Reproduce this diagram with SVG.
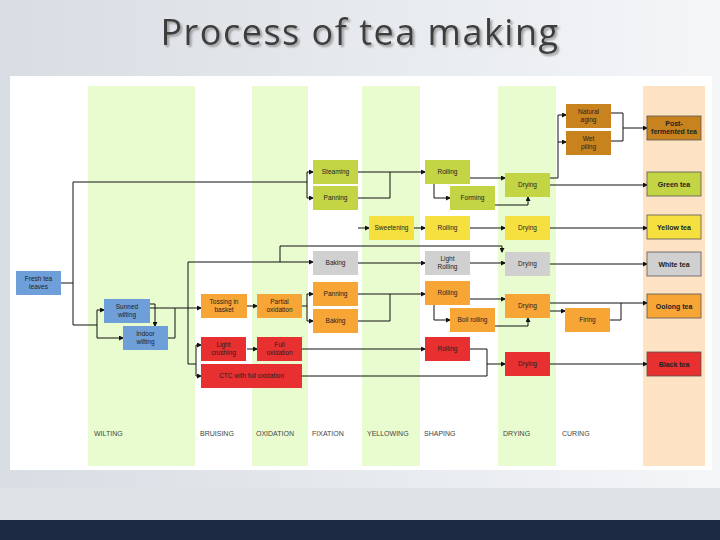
<svg xmlns="http://www.w3.org/2000/svg" width="720" height="540" viewBox="0 0 720 540">
<defs>
<linearGradient id="lg" x1="0" x2="1"><stop offset="0" stop-color="#d8dde3"/><stop offset="1" stop-color="#f4f6f8"/></linearGradient>
<filter id="sh"><feDropShadow dx="2" dy="2" stdDeviation="0.8" flood-color="#999"/></filter>
<marker id="a" markerWidth="5" markerHeight="5" refX="4" refY="2.5" orient="auto"><path d="M0,0L5,2.5L0,5z" fill="#111"/></marker>
<style>
.n rect{stroke:none}
.n text{font-family:"Liberation Sans",Arial,sans-serif;font-size:6.5px;text-anchor:middle;fill:#222}
.p text{font-weight:bold;font-size:7px}
.p rect{stroke:#555;stroke-width:.8}
.b{fill:#6f9fd8}.g{fill:#c3d545}.y{fill:#f5e040}.w{fill:#d0d0d0}.o{fill:#f7a535}.r{fill:#e83030}.br{fill:#c8821e}
.c path{fill:none;stroke:#111;stroke-width:1;marker-end:url(#a)}
.c path.nm{marker-end:none}
.lab{font-family:"Liberation Sans",Arial,sans-serif;font-size:7px;fill:#444}
</style>
</defs>
<rect width="720" height="540" fill="url(#lg)"/>
<rect x="0" y="488" width="720" height="32" fill="#dfe3e8"/>
<rect x="0" y="520" width="720" height="20" fill="#1c2a44"/>
<text x="360" y="45" text-anchor="middle" font-family="Open Sans,Liberation Sans,sans-serif" font-size="36" letter-spacing="1.5" fill="#3d3d3d" filter="url(#sh)">Process of tea making</text>
<rect x="10" y="76" width="702" height="394" fill="#fff"/>
<g fill="#e8fcd0">
<rect x="88" y="86" width="107" height="380"/><rect x="252" y="86" width="56" height="380"/><rect x="362" y="86" width="58" height="380"/><rect x="498" y="86" width="58" height="380"/>
</g>
<rect x="643" y="86" width="62" height="380" fill="#fde3c4"/>
<g class="lab">
<text x="94" y="436">WILTING</text><text x="200" y="436">BRUISING</text><text x="256" y="436">OXIDATION</text><text x="312" y="436">FIXATION</text><text x="367" y="436">YELLOWING</text><text x="424" y="436">SHAPING</text><text x="503" y="436">DRYING</text><text x="562" y="436">CURING</text>
</g>
<g class="c">
<path class="nm" d="M61,283H73"/>
<path class="nm" d="M73,182V325"/>
<path d="M73,182H307V172H313"/><path d="M307,182V198H313"/>
<path class="nm" d="M73,325H97"/><path d="M97,325V310H104"/><path d="M97,325V338H123"/>
<path d="M150,304H155V326"/>
<path class="nm" d="M168,338H175V308"/>
<path d="M150,308H201"/>
<path d="M247,306H257"/>
<path class="nm" d="M302,306H307"/><path d="M307,294H313"/><path d="M307,321H313"/><path class="nm" d="M307,294V321"/>
<path class="nm" d="M188,262V364"/><path d="M188,262H313"/><path class="nm" d="M280,262V246H502"/><path d="M502,246V252"/>
<path d="M196,345H201"/><path d="M196,376H201"/><path class="nm" d="M196,345V376"/><path class="nm" d="M188,364H196"/>
<path d="M247,349H257"/>
<path d="M358,172H425"/><path class="nm" d="M358,198H390V172"/>
<path d="M470,178H505"/><path d="M434,184V198H450"/><path d="M495,205H528V197"/>
<path d="M550,178H558V115H566"/><path d="M558,142H566"/>
<path class="nm" d="M611,113H623V141H611"/><path d="M623,128H647"/>
<path d="M550,185H647"/>
<path d="M358,228H369"/><path d="M414,228H425"/><path d="M470,228H505"/><path d="M550,228H647"/>
<path d="M358,263H425"/><path d="M470,263H505"/><path d="M550,264H647"/>
<path d="M358,294H425"/><path class="nm" d="M358,321H390V294"/>
<path d="M470,299H505"/><path d="M434,305V320H450"/><path d="M495,326H528V318"/>
<path d="M550,303H647"/><path d="M550,311H565"/><path class="nm" d="M610,320H621V303"/>
<path d="M302,349H425"/><path class="nm" d="M470,349H487V376H302"/><path d="M487,364H505"/>
<path d="M550,364H647"/>
</g>
<g id="fresh" class="n"><rect class="b" x="16" y="271" width="45" height="24"/><text x="38.5" y="281">Fresh tea</text><text x="38.5" y="289">leaves</text></g>
<g id="sunned" class="n"><rect class="b" x="104" y="299" width="46" height="24"/><text x="127" y="309">Sunned</text><text x="127" y="317">wilting</text></g>
<g id="indoor" class="n"><rect class="b" x="123" y="326" width="45" height="24"/><text x="145.5" y="336">Indoor</text><text x="145.5" y="344">wilting</text></g>
<g id="steaming" class="n"><rect class="g" x="313" y="160" width="45" height="24"/><text x="335.5" y="174">Steaming</text></g>
<g id="panning1" class="n"><rect class="g" x="313" y="186" width="45" height="24"/><text x="335.5" y="200">Panning</text></g>
<g id="rolling1" class="n"><rect class="g" x="425" y="160" width="45" height="24"/><text x="447.5" y="174">Rolling</text></g>
<g id="forming" class="n"><rect class="g" x="450" y="186" width="45" height="24"/><text x="472.5" y="200">Forming</text></g>
<g id="drying1" class="n"><rect class="g" x="505" y="173" width="45" height="24"/><text x="527.5" y="187">Drying</text></g>
<g id="sweetening" class="n"><rect class="y" x="369" y="216" width="45" height="24"/><text x="391.5" y="230">Sweetening</text></g>
<g id="rolling2" class="n"><rect class="y" x="425" y="216" width="45" height="24"/><text x="447.5" y="230">Rolling</text></g>
<g id="drying2" class="n"><rect class="y" x="505" y="216" width="45" height="24"/><text x="527.5" y="230">Drying</text></g>
<g id="baking1" class="n"><rect class="w" x="313" y="251" width="45" height="24"/><text x="335.5" y="265">Baking</text></g>
<g id="lightrolling" class="n"><rect class="w" x="425" y="251" width="45" height="24"/><text x="447.5" y="261">Light</text><text x="447.5" y="269">Rolling</text></g>
<g id="drying3" class="n"><rect class="w" x="505" y="252" width="45" height="24"/><text x="527.5" y="266">Drying</text></g>
<g id="tossing" class="n"><rect class="o" x="201" y="294" width="46" height="24"/><text x="224" y="304">Tossing in</text><text x="224" y="312">basket</text></g>
<g id="partial" class="n"><rect class="o" x="257" y="294" width="45" height="24"/><text x="279.5" y="304">Partial</text><text x="279.5" y="312">oxidation</text></g>
<g id="panning2" class="n"><rect class="o" x="313" y="282" width="45" height="24"/><text x="335.5" y="296">Panning</text></g>
<g id="baking2" class="n"><rect class="o" x="313" y="309" width="45" height="24"/><text x="335.5" y="323">Baking</text></g>
<g id="rolling3" class="n"><rect class="o" x="425" y="281" width="45" height="24"/><text x="447.5" y="295">Rolling</text></g>
<g id="boilrolling" class="n"><rect class="o" x="450" y="308" width="45" height="24"/><text x="472.5" y="322">Boil rolling</text></g>
<g id="drying4" class="n"><rect class="o" x="505" y="294" width="45" height="24"/><text x="527.5" y="308">Drying</text></g>
<g id="firing" class="n"><rect class="o" x="565" y="308" width="45" height="24"/><text x="587.5" y="322">Firing</text></g>
<g id="lightcrushing" class="n"><rect class="r" x="201" y="337" width="45" height="24"/><text x="223.5" y="347">Light</text><text x="223.5" y="355">crushing</text></g>
<g id="fulloxidation" class="n"><rect class="r" x="257" y="337" width="45" height="24"/><text x="279.5" y="347">Full</text><text x="279.5" y="355">oxidation</text></g>
<g id="ctc" class="n"><rect class="r" x="201" y="364" width="101" height="24"/><text x="251.5" y="378">CTC with full oxidation</text></g>
<g id="rolling4" class="n"><rect class="r" x="425" y="337" width="45" height="24"/><text x="447.5" y="351">Rolling</text></g>
<g id="drying5" class="n"><rect class="r" x="505" y="352" width="45" height="24"/><text x="527.5" y="366">Drying</text></g>
<g id="natural" class="n"><rect class="br" x="566" y="104" width="45" height="24"/><text x="588.5" y="114">Natural</text><text x="588.5" y="122">aging</text></g>
<g id="wetpiling" class="n"><rect class="br" x="566" y="131" width="45" height="24"/><text x="588.5" y="141">Wet</text><text x="588.5" y="149">piling</text></g>
<g id="postfermented" class="n p"><rect class="br" x="647" y="116" width="54" height="24"/><text x="674" y="126">Post-</text><text x="674" y="134">fermented tea</text></g>
<g id="greentea" class="n p"><rect class="g" x="647" y="172" width="54" height="24"/><text x="674" y="187">Green tea</text></g>
<g id="yellowtea" class="n p"><rect class="y" x="647" y="215" width="54" height="24"/><text x="674" y="230">Yellow tea</text></g>
<g id="whitetea" class="n p"><rect class="w" x="647" y="252" width="54" height="24"/><text x="674" y="267">White tea</text></g>
<g id="oolongtea" class="n p"><rect class="o" x="647" y="294" width="54" height="24"/><text x="674" y="309">Oolong tea</text></g>
<g id="blacktea" class="n p"><rect class="r" x="647" y="352" width="54" height="24"/><text x="674" y="367">Black tea</text></g>
</svg>
